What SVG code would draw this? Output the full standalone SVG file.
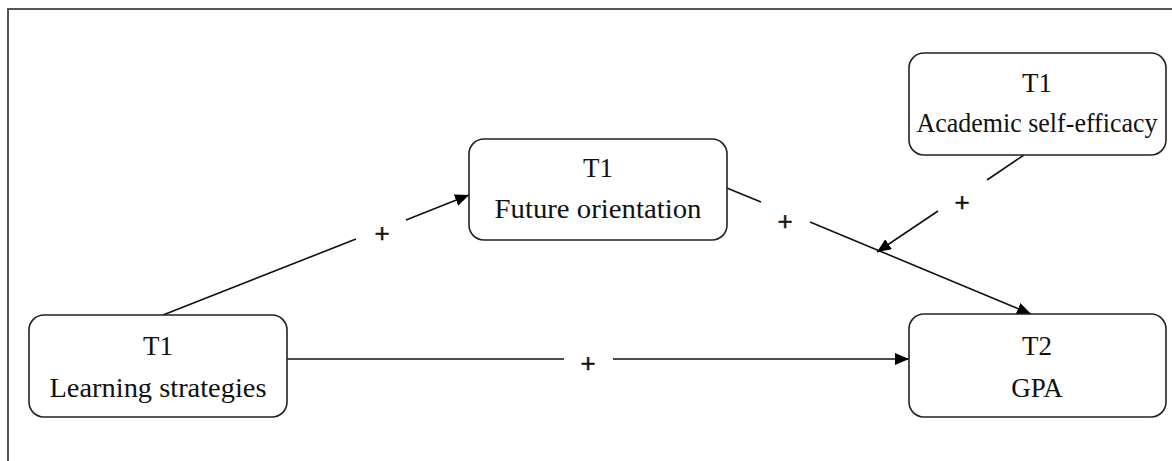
<svg xmlns="http://www.w3.org/2000/svg" width="1172" height="461" viewBox="0 0 1172 461">
<defs>
<style>
.box{fill:#fff;stroke:#222;stroke-width:1.6}
.lbl{font-family:"Liberation Serif","Times New Roman",serif;font-size:27px;fill:#111;text-anchor:middle}
.plus{font-family:"Liberation Sans",Arial,sans-serif;font-size:26px;fill:#111;stroke:#111;stroke-width:0.4;text-anchor:middle}
.edge{stroke:#111;stroke-width:1.6;fill:none}
</style>
<marker id="arr" viewBox="0 0 14 12" refX="14" refY="6" markerWidth="14" markerHeight="12" markerUnits="userSpaceOnUse" orient="auto">
<path d="M0,0 L14,6 L0,12 Z" fill="#000"/>
</marker>
</defs>
<rect width="1172" height="461" fill="#fff"/>
<rect x="8" y="9" width="1180" height="470" fill="none" stroke="#444" stroke-width="1.8"/>

<g id="connectors">
<line class="edge" x1="163" y1="315" x2="356" y2="239"/>
<line class="edge" x1="406" y1="220" x2="469" y2="195" marker-end="url(#arr)"/>
<text class="plus" x="382" y="242">+</text>

<line class="edge" x1="717" y1="184" x2="761" y2="202"/>
<line class="edge" x1="810" y1="222" x2="1031" y2="314" marker-end="url(#arr)"/>
<text class="plus" x="785" y="230">+</text>

<line class="edge" x1="1024" y1="155" x2="987" y2="180"/>
<line class="edge" x1="938" y1="211" x2="877" y2="252" marker-end="url(#arr)"/>
<text class="plus" x="962" y="211">+</text>

<line class="edge" x1="287" y1="359" x2="564" y2="359"/>
<line class="edge" x1="613" y1="359" x2="909" y2="359" marker-end="url(#arr)"/>
<text class="plus" x="588" y="372">+</text>
</g>

<g id="learning">
<rect class="box" x="29" y="315" width="258" height="102" rx="15"/>
<text class="lbl" x="158" y="355">T1</text>
<text class="lbl" x="158" y="397" textLength="217" lengthAdjust="spacingAndGlyphs">Learning strategies</text>
</g>

<g id="future">
<rect class="box" x="469" y="139" width="258" height="101" rx="15"/>
<text class="lbl" x="598" y="177">T1</text>
<text class="lbl" x="598" y="218" textLength="207" lengthAdjust="spacingAndGlyphs">Future orientation</text>
</g>

<g id="academic">
<rect class="box" x="909" y="53" width="257" height="102" rx="15"/>
<text class="lbl" x="1037" y="92">T1</text>
<text class="lbl" x="1037" y="132" textLength="241" lengthAdjust="spacingAndGlyphs">Academic self-efficacy</text>
</g>

<g id="gpa">
<rect class="box" x="909" y="314" width="257" height="103" rx="15"/>
<text class="lbl" x="1037" y="355">T2</text>
<text class="lbl" x="1037" y="397">GPA</text>
</g>
</svg>
